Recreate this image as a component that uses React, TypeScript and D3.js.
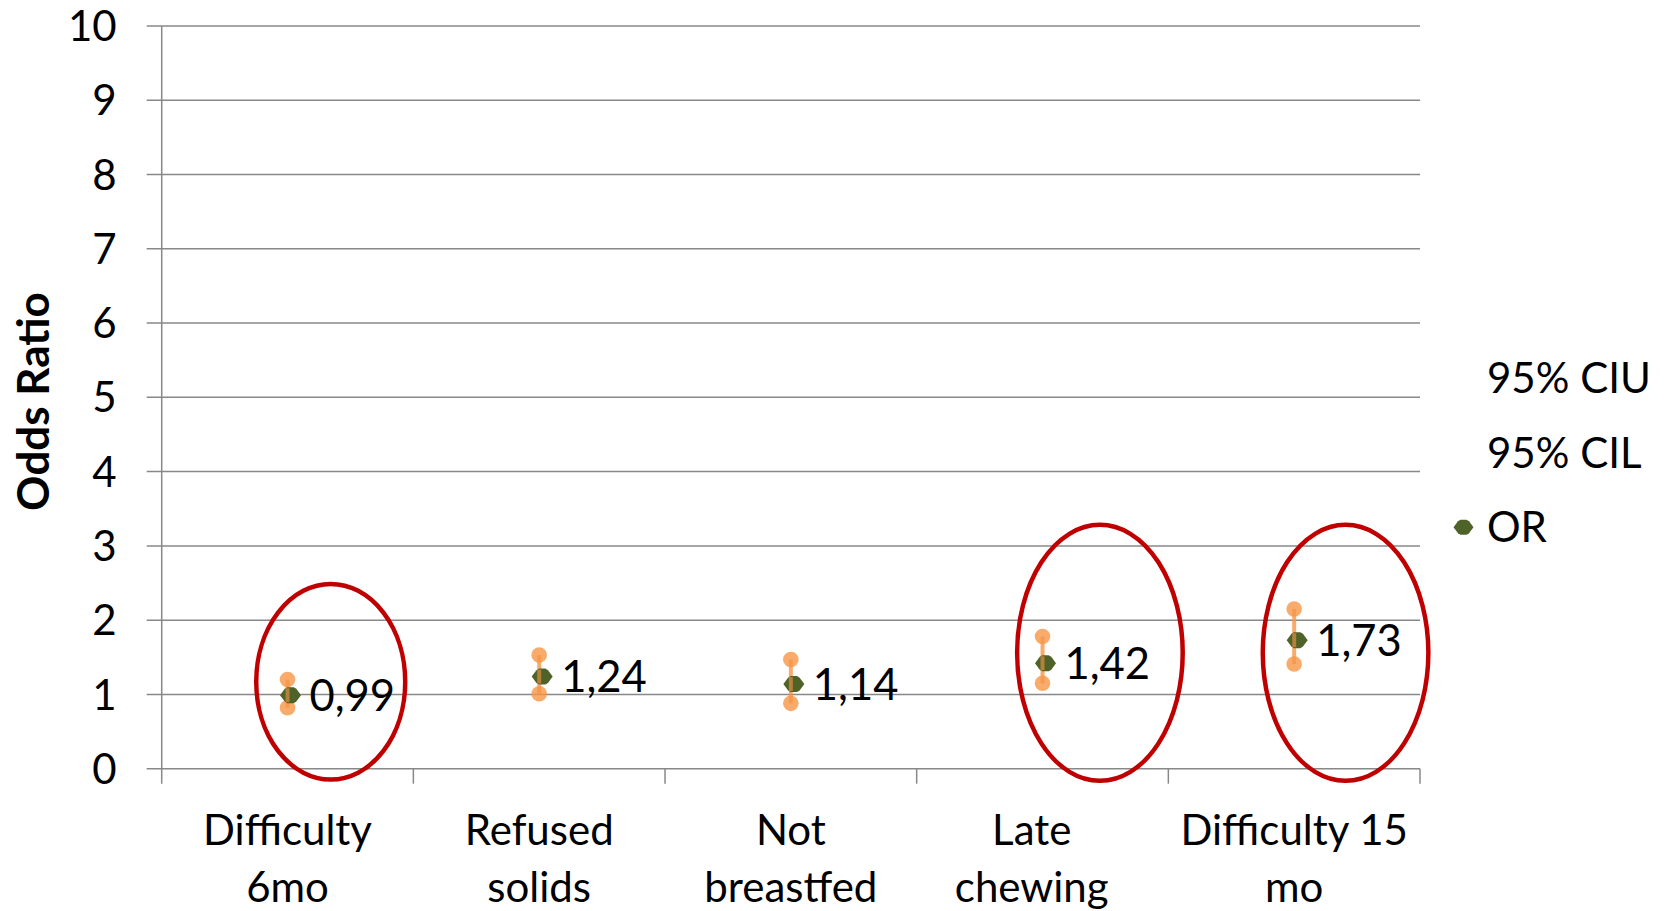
import React from "react";
import * as d3 from "d3";

// Odds ratios with 95% confidence limits per feeding indicator
const categories: string[][] = [
  ["Difficulty", "6mo"],
  ["Refused", "solids"],
  ["Not", "breastfed"],
  ["Late\u00a0\u00a0", "chewing\u00a0\u00a0"],
  ["Difficulty 15", "mo"],
];
const oddsRatio = [0.99, 1.24, 1.14, 1.42, 1.73];
const ciUpper = [1.2, 1.53, 1.47, 1.78, 2.15];
const ciLower = [0.82, 1.01, 0.88, 1.15, 1.41];
const yTicks = [0, 1, 2, 3, 4, 5, 6, 7, 8, 9, 10];
const legendLabels = ["95% CIU", "95% CIL", "OR"];

// Highlighted categories (index, centre value on the y scale)
const highlightIndex = [0, 3, 4];
const highlightCenter = [1.17, 1.56, 1.56];

const W = 1664;
const H = 911;
const FONT = "Lato, 'Open Sans', sans-serif";
const GRID = "#888888";
const ORANGE = "#F79646";
const GREEN = "#4F6228";
const RED = "#C00000";

const plotLeft = 161.7;
const plotRight = 1420;
const plotTop = 26;
const plotBottom = 768.7;

const fmt = (v: number) => d3.format(".2f")(v).replace(".", ",");

function hexMarker(cx: number, cy: number, w: number, h: number) {
  const hw = w / 2;
  const hh = h / 2;
  const path = d3.path();
  path.moveTo(cx - hw, cy);
  path.lineTo(cx - hw * 0.55, cy - hh * 0.8);
  path.lineTo(cx - hw * 0.3, cy - hh);
  path.lineTo(cx + hw * 0.3, cy - hh);
  path.lineTo(cx + hw * 0.55, cy - hh * 0.8);
  path.lineTo(cx + hw, cy);
  path.lineTo(cx + hw * 0.55, cy + hh * 0.8);
  path.lineTo(cx + hw * 0.3, cy + hh);
  path.lineTo(cx - hw * 0.3, cy + hh);
  path.lineTo(cx - hw * 0.55, cy + hh * 0.8);
  path.closePath();
  return path.toString();
}

export default function App() {
  const keys = categories.map((_, i) => String(i));
  const x = d3.scaleBand<string>().domain(keys).range([plotLeft, plotRight]).padding(0);
  const y = d3.scaleLinear().domain([0, 10]).range([plotBottom, plotTop]);
  const cx = (i: number) => (x(String(i)) as number) + x.bandwidth() / 2;
  const boundaries = d3.range(categories.length + 1).map((i) => plotLeft + i * x.bandwidth());

  return (
    <svg
      width={W}
      height={H}
      style={{ position: "absolute", left: 0, top: 0, background: "#fff" }}
      fontFamily={FONT}
    >
      {/* gridlines and y ticks */}
      {yTicks.map((t) => (
        <line
          key={"g" + t}
          x1={plotLeft - 15}
          x2={plotRight}
          y1={y(t)}
          y2={y(t)}
          stroke={GRID}
          strokeWidth={1.5}
        />
      ))}
      {yTicks.map((t) => (
        <text
          key={"yt" + t}
          x={116.7}
          y={y(t)}
          dy="0.36em"
          textAnchor="end"
          fontSize={42}
          fill="#000"
        >
          {t}
        </text>
      ))}
      {/* y axis line */}
      <line x1={plotLeft} x2={plotLeft} y1={plotTop} y2={plotBottom + 15} stroke={GRID} strokeWidth={1.5} />
      {/* category tick marks */}
      {boundaries.slice(1).map((bx, i) => (
        <line key={"ct" + i} x1={bx} x2={bx} y1={plotBottom} y2={plotBottom + 15} stroke={GRID} strokeWidth={1.5} />
      ))}

      {/* y axis title */}
      <text
        transform={`translate(49,401.5) rotate(-90)`}
        textAnchor="middle"
        fontSize={44}
        fontWeight="bold"
        fill="#000"
      >
        Odds Ratio
      </text>

      {/* category labels */}
      {categories.map((lines, i) => (
        <text key={"cl" + i} x={cx(i)} y={845} textAnchor="middle" fontSize={42} fill="#000" xmlSpace="preserve">
          {lines.map((l, j) => (
            <tspan key={j} x={cx(i)} dy={j === 0 ? 0 : 56.7}>
              {l}
            </tspan>
          ))}
        </text>
      ))}

      {/* confidence intervals */}
      {oddsRatio.map((_, i) => (
        <g key={"ci" + i}>
          <line
            x1={cx(i)}
            x2={cx(i)}
            y1={y(ciUpper[i])}
            y2={y(ciLower[i])}
            stroke={ORANGE}
            strokeOpacity={0.8}
            strokeWidth={4}
          />
          <circle cx={cx(i)} cy={y(ciUpper[i])} r={7.8} fill={ORANGE} fillOpacity={0.8} />
          <circle cx={cx(i)} cy={y(ciLower[i])} r={7.8} fill={ORANGE} fillOpacity={0.8} />
        </g>
      ))}

      {/* odds ratio markers and value labels */}
      {oddsRatio.map((v, i) => (
        <g key={"or" + i}>
          <path d={hexMarker(cx(i) + 3, y(v), 21, 16)} fill={GREEN} />
          <line x1={cx(i)} x2={cx(i)} y1={y(v) - 7} y2={y(v) + 7} stroke={ORANGE} strokeOpacity={0.6} strokeWidth={4} />
          <text x={cx(i) + 22} y={y(v)} dy="0.36em" fontSize={43.5} fill="#000">
            {fmt(v)}
          </text>
        </g>
      ))}

      {/* highlight ellipses */}
      {highlightIndex.map((ci, k) => {
        const isFirst = k === 0;
        const dx = isFirst ? 43.2 : ci === 3 ? 57.4 : 51.4;
        return (
          <ellipse
            key={"hl" + k}
            cx={cx(ci) + dx}
            cy={y(highlightCenter[k])}
            rx={isFirst ? 74.5 : 82.8}
            ry={isFirst ? 97.8 : 128}
            fill="none"
            stroke={RED}
            strokeWidth={4.5}
          />
        );
      })}

      {/* legend */}
      {legendLabels.map((label, i) => (
        <text key={"lg" + i} x={1487} y={393.3 + i * 74.3} fontSize={42} fill="#000">
          {label}
        </text>
      ))}
      <path d={hexMarker(1463.5, 527.3, 20, 15)} fill={GREEN} />
    </svg>
  );
}
